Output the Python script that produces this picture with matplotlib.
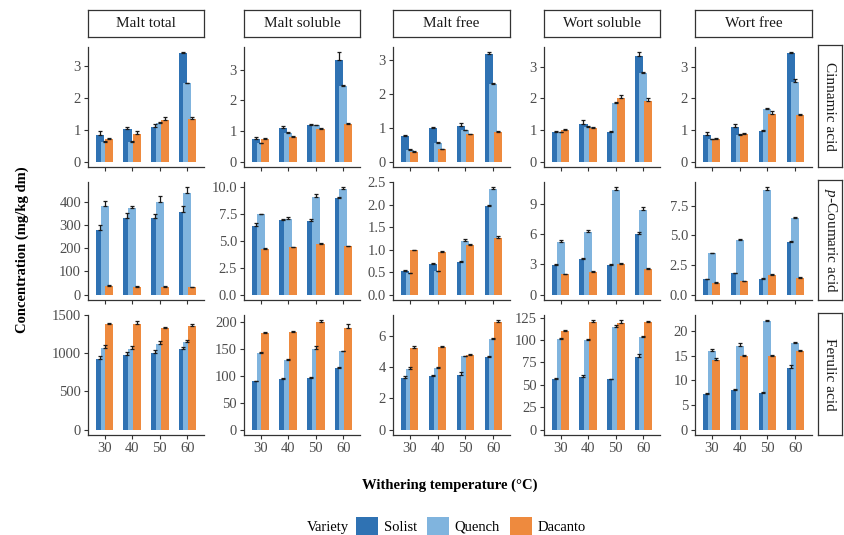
import matplotlib
matplotlib.use("Agg")
import matplotlib.pyplot as plt
from matplotlib.patches import Patch
import numpy as np

plt.rcParams['font.family'] = ['Liberation Serif', 'DejaVu Serif']
plt.rcParams['mathtext.fontset'] = 'custom'
plt.rcParams['mathtext.rm'] = 'Liberation Serif'
plt.rcParams['mathtext.it'] = 'Liberation Serif:italic'

temps = ['30', '40', '50', '60']
varieties = ['Solist', 'Quench', 'Dacanto']
fractions = ['Malt total', 'Malt soluble', 'Malt free', 'Wort soluble', 'Wort free']
acids = ['Cinnamic acid', r'$\mathit{p}$-Coumaric acid', 'Ferulic acid']
colors = ['#2f72b3', '#80b4de', '#ee8a3e']

# ---- Cinnamic acid: means [variety][temp], errors ----
cin_malt_total = [[0.85, 1.03, 1.10, 3.42], [0.63, 0.62, 1.20, 2.47], [0.72, 0.88, 1.32, 1.33]]
cin_malt_total_err = [[0.10, 0.05, 0.07, 0.02], [0.02, 0.02, 0.05, 0.02], [0.03, 0.07, 0.10, 0.08]]
cin_malt_sol = [[0.75, 1.10, 1.20, 3.32], [0.60, 0.95, 1.18, 2.47], [0.73, 0.80, 1.07, 1.22]]
cin_malt_sol_err = [[0.04, 0.06, 0.03, 0.25], [0.02, 0.03, 0.02, 0.02], [0.04, 0.04, 0.02, 0.05]]
cin_malt_free = [[0.75, 1.00, 1.05, 3.17], [0.35, 0.55, 0.92, 2.28], [0.28, 0.36, 0.80, 0.87]]
cin_malt_free_err = [[0.02, 0.01, 0.08, 0.04], [0.02, 0.02, 0.02, 0.03], [0.02, 0.02, 0.02, 0.02]]
cin_wort_sol = [[0.93, 1.20, 0.95, 3.33], [0.92, 1.10, 1.85, 2.80], [1.00, 1.07, 2.02, 1.92]]
cin_wort_sol_err = [[0.03, 0.12, 0.02, 0.12], [0.02, 0.02, 0.03, 0.03], [0.04, 0.03, 0.10, 0.08]]
cin_wort_free = [[0.85, 1.08, 0.97, 3.43], [0.70, 0.85, 1.67, 2.52], [0.72, 0.88, 1.50, 1.47]]
cin_wort_free_err = [[0.07, 0.10, 0.02, 0.02], [0.02, 0.02, 0.03, 0.08], [0.03, 0.02, 0.10, 0.04]]

# ---- p-Coumaric acid ----
cou_malt_total = [[280, 332, 332, 355], [380, 372, 398, 437], [38, 35, 35, 32]]
cou_malt_total_err = [[20, 20, 15, 25], [25, 8, 25, 25], [2, 2, 2, 2]]
cou_malt_sol = [[6.40, 6.90, 6.80, 8.95], [7.45, 7.05, 9.10, 9.80], [4.25, 4.40, 4.70, 4.50]]
cou_malt_sol_err = [[0.20, 0.10, 0.20, 0.15], [0.05, 0.15, 0.25, 0.15], [0.05, 0.05, 0.05, 0.05]]
cou_malt_free = [[0.52, 0.68, 0.72, 1.97], [0.48, 0.52, 1.20, 2.35], [0.98, 0.95, 1.10, 1.26]]
cou_malt_free_err = [[0.02, 0.02, 0.02, 0.03], [0.01, 0.01, 0.04, 0.03], [0.01, 0.02, 0.03, 0.04]]
cou_wort_sol = [[2.95, 3.50, 2.95, 6.00], [5.25, 6.20, 10.30, 8.40], [2.00, 2.25, 3.05, 2.55]]
cou_wort_sol_err = [[0.05, 0.15, 0.05, 0.20], [0.10, 0.15, 0.30, 0.30], [0.05, 0.05, 0.10, 0.05]]
cou_wort_free = [[1.30, 1.80, 1.35, 4.45], [3.50, 4.60, 8.85, 6.45], [1.00, 1.15, 1.65, 1.40]]
cou_wort_free_err = [[0.05, 0.05, 0.05, 0.05], [0.05, 0.08, 0.20, 0.10], [0.03, 0.03, 0.05, 0.05]]

# ---- Ferulic acid ----
fer_malt_total = [[930, 980, 1000, 1060], [1070, 1050, 1120, 1150], [1380, 1380, 1330, 1355]]
fer_malt_total_err = [[30, 30, 40, 20], [40, 40, 40, 20], [20, 40, 15, 30]]
fer_malt_sol = [[89, 94, 95, 114], [141, 129, 150, 145], [179, 181, 200, 188]]
fer_malt_sol_err = [[1, 2, 2, 2], [2, 2, 4, 1], [1, 1, 2, 7]]
fer_malt_free = [[3.30, 3.45, 3.50, 4.65], [3.85, 3.95, 4.70, 5.80], [5.20, 5.30, 4.80, 6.90]]
fer_malt_free_err = [[0.10, 0.05, 0.15, 0.05], [0.15, 0.05, 0.03, 0.05], [0.15, 0.05, 0.03, 0.08]]
fer_wort_sol = [[57, 59, 56, 81], [101, 100, 115, 104], [110, 120, 119, 120]]
fer_wort_sol_err = [[1, 2, 1, 3], [1, 1, 2, 1], [1, 2, 3, 1]]
fer_wort_free = [[7.2, 8.0, 7.4, 12.5], [16.0, 17.0, 21.9, 17.5], [14.1, 15.0, 15.0, 16.0]]
fer_wort_free_err = [[0.3, 0.2, 0.2, 0.5], [0.3, 0.5, 0.2, 0.2], [0.3, 0.2, 0.2, 0.2]]

means = [
    [cin_malt_total, cin_malt_sol, cin_malt_free, cin_wort_sol, cin_wort_free],
    [cou_malt_total, cou_malt_sol, cou_malt_free, cou_wort_sol, cou_wort_free],
    [fer_malt_total, fer_malt_sol, fer_malt_free, fer_wort_sol, fer_wort_free],
]
errs = [
    [cin_malt_total_err, cin_malt_sol_err, cin_malt_free_err, cin_wort_sol_err, cin_wort_free_err],
    [cou_malt_total_err, cou_malt_sol_err, cou_malt_free_err, cou_wort_sol_err, cou_wort_free_err],
    [fer_malt_total_err, fer_malt_sol_err, fer_malt_free_err, fer_wort_sol_err, fer_wort_free_err],
]

yticks = [
    [[0, 1, 2, 3]] * 5,
    [[0, 100, 200, 300, 400], [0, 2.5, 5, 7.5, 10], [0, 0.5, 1, 1.5, 2, 2.5], [0, 3, 6, 9], [0, 2.5, 5, 7.5]],
    [[0, 500, 1000, 1500], [0, 50, 100, 150, 200], [0, 2, 4, 6], [0, 25, 50, 75, 100, 125], [0, 5, 10, 15, 20]],
]
yticklabels = [
    [['0', '1', '2', '3']] * 5,
    [['0', '100', '200', '300', '400'], ['0.0', '2.5', '5.0', '7.5', '10.0'],
     ['0.0', '0.5', '1.0', '1.5', '2.0', '2.5'], ['0', '3', '6', '9'], ['0.0', '2.5', '5.0', '7.5']],
    [['0', '500', '1000', '1500'], ['0', '50', '100', '150', '200'], ['0', '2', '4', '6'],
     ['0', '25', '50', '75', '100', '125'], ['0', '5', '10', '15', '20']],
]

W, H = 844, 535
fig = plt.figure(figsize=(W / 100, H / 100), dpi=100)

col_x = [(88, 204), (244, 360), (393, 510), (544, 660), (695, 812)]
row_y = [(47, 167), (182, 300), (315, 435)]

def fax(x0, y0, x1, y1):
    return fig.add_axes([x0 / W, 1 - y1 / H, (x1 - x0) / W, (y1 - y0) / H])

axis_col = '#333333'
tick_col = '#4d4d4d'
xpos = np.arange(len(temps))
offsets = [-0.17, 0.0, 0.17]
bw = 0.29

for r in range(3):
    for c in range(5):
        ax = fax(col_x[c][0], row_y[r][0], col_x[c][1], row_y[r][1])
        m = means[r][c]
        e = errs[r][c]
        for v in range(3):
            ax.bar(xpos + offsets[v], m[v], width=bw, color=colors[v], zorder=2 + v, linewidth=0)
        for v in range(3):
            ax.errorbar(xpos + offsets[v], m[v], yerr=[np.zeros(4), e[v]], fmt='none',
                        ecolor='#1a1a1a', elinewidth=0.9, capsize=1.6, capthick=0.9, zorder=10)
        top = max(max(np.array(m[v]) + np.array(e[v])) for v in range(3))
        ax.set_ylim(-0.05 * top, top * 1.05)
        ax.set_xlim(-0.6, 3.6)
        ax.set_yticks(yticks[r][c])
        ax.set_yticklabels(yticklabels[r][c])
        ax.set_xticks(xpos)
        if r == 2:
            ax.set_xticklabels(temps)
        else:
            ax.set_xticklabels([])
        for s in ['top', 'right']:
            ax.spines[s].set_visible(False)
        for s in ['left', 'bottom']:
            ax.spines[s].set_color(axis_col)
            ax.spines[s].set_linewidth(0.9)
        ax.tick_params(axis='both', colors=axis_col, labelcolor=tick_col, labelsize=10.5,
                       length=3, width=0.8, pad=2)
        ax.patch.set_alpha(0)

# top strips
for c in range(5):
    sa = fax(col_x[c][0], 10, col_x[c][1], 37)
    sa.set_xticks([]); sa.set_yticks([])
    for s in sa.spines.values():
        s.set_color('#333333'); s.set_linewidth(0.9)
    sa.text(0.5, 0.5, fractions[c], ha='center', va='center', fontsize=11, color='#1a1a1a',
            transform=sa.transAxes)

# right strips
for r in range(3):
    sa = fax(818, row_y[r][0] - 2, 842, row_y[r][1])
    sa.set_xticks([]); sa.set_yticks([])
    for s in sa.spines.values():
        s.set_color('#333333'); s.set_linewidth(0.9)
    sa.text(0.5, 0.5, acids[r], ha='center', va='center', fontsize=11, color='#1a1a1a',
            rotation=270, transform=sa.transAxes)

fig.text(22 / W, 1 - 250 / H, 'Concentration (mg/kg dm)', rotation=90, ha='center', va='center',
         fontsize=10.5, fontweight='bold')
fig.text(450 / W, 1 - 485 / H, 'Withering temperature (°C)', ha='center', va='center',
         fontsize=10.5, fontweight='bold')

fig.text(328 / W, 1 - 527 / H, 'Variety', ha='center', va='center', fontsize=10.5)
handles = [Patch(facecolor=col, edgecolor='none') for col in colors]
fig.legend(handles, varieties, ncol=3, loc='center left', bbox_to_anchor=(356 / W, 1 - 526 / H),
           frameon=False, fontsize=10.5, handlelength=1.5, handleheight=1.6, columnspacing=0.7,
           handletextpad=0.4, borderaxespad=0, borderpad=0)

fig.savefig('out.png', dpi=100)
